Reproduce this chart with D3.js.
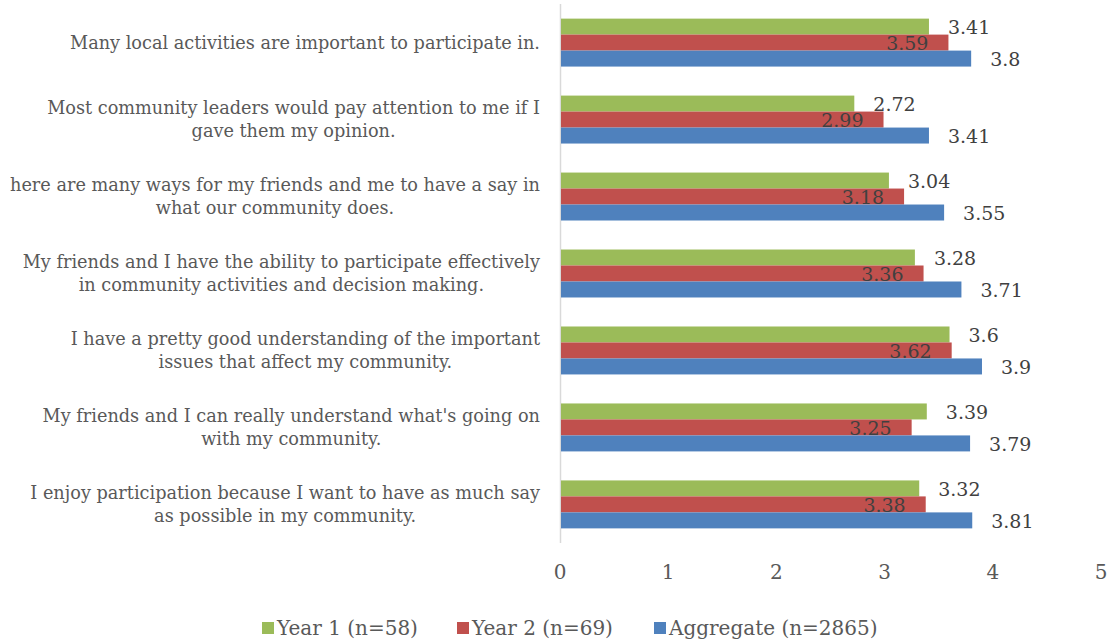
<!DOCTYPE html>
<html>
<head>
<meta charset="utf-8">
<script src="https://cdn.jsdelivr.net/npm/d3@7"></script>
<style>
  body { margin: 0; background: #fff; }
  svg text { font-family: "DejaVu Serif", "Liberation Serif", serif; }
</style>
</head>
<body>
<svg id="chart"></svg>
<script>
  // categories, top to bottom (line breaks as in the chart)
  const categories = [
    ['Many local activities are important to participate in.'],
    ['Most community leaders would pay attention to me if I', 'gave them my opinion.'],
    ['here are many ways for my friends and me to have a say in', 'what our community does.'],
    ['My friends and I have the ability to participate effectively', 'in community activities and decision making.'],
    ['I have a pretty good understanding  of the important', 'issues that affect my community.'],
    ['My friends and I can really understand  what\'s going on', 'with my community.'],
    ['I enjoy participation because I want to have as much say', 'as possible in my community.']
  ];
  const year1 = [3.41, 2.72, 3.04, 3.28, 3.6, 3.39, 3.32];
  const year2 = [3.59, 2.99, 3.18, 3.36, 3.62, 3.25, 3.38];
  const aggregate = [3.8, 3.41, 3.55, 3.71, 3.9, 3.79, 3.81];
  const seriesNames = ['Year 1 (n=58)', 'Year 2 (n=69)', 'Aggregate (n=2865)'];
  const tickValues = [0, 1, 2, 3, 4, 5];

  const colors = ['#9bbb59', '#c0504d', '#4f81bd'];
  const width = 1108;
  const height = 643;
  const plot = { left: 560, right: 1101, top: 4, bottom: 543 };

  const svg = d3.select('#chart').attr('width', width).attr('height', height);

  const x = d3.scaleLinear().domain([0, 5]).range([plot.left, plot.right]);
  const y = d3.scaleBand().domain(d3.range(categories.length)).range([plot.top, plot.bottom]).paddingInner(0.377).paddingOuter(0.19);
  const sub = d3.scaleBand().domain([0, 1, 2]).range([0, y.bandwidth()]);

  const series = [year1, year2, aggregate];

  // axis line
  svg.append('line')
    .attr('x1', x(0) + 0.5).attr('x2', x(0) + 0.5)
    .attr('y1', plot.top).attr('y2', plot.bottom)
    .attr('stroke', '#d9d9d9').attr('stroke-width', 1.5);

  // bars
  const groups = svg.selectAll('g.cat')
    .data(categories)
    .enter()
    .append('g')
    .attr('class', 'cat')
    .attr('transform', function(d, i) { return 'translate(0,' + y(i) + ')'; });

  groups.each(function(d, i) {
    const g = d3.select(this);
    series.forEach(function(s, k) {
      g.append('rect')
        .attr('x', x(0) + 1)
        .attr('y', sub(k))
        .attr('width', x(s[i]) - x(0) - 1)
        .attr('height', sub.bandwidth())
        .attr('fill', colors[k]);
    });
    // value labels
    series.forEach(function(s, k) {
      const end = x(s[i]);
      g.append('text')
        .attr('x', k === 1 ? end - 20 : end + 19)
        .attr('y', sub(k) + sub.bandwidth() / 2 + 0.5)
        .attr('dy', '0.35em')
        .attr('text-anchor', k === 1 ? 'end' : 'start')
        .style('font-size', '19px')
        .attr('fill', '#404040')
        .text(s[i]);
    });
  });

  // category labels (centered block, right edge near axis)
  const labelRight = 540;
  groups.each(function(d, i) {
    const g = d3.select(this);
    const t = g.append('text')
      .style('font-size', '17.7px')
      .attr('fill', '#595959')
      .attr('text-anchor', 'middle');
    const lineH = 23;
    const cy = y.bandwidth() / 2;
    d.forEach(function(line, j) {
      t.append('tspan')
        .attr('y', cy + (j - (d.length - 1) / 2) * lineH)
        .attr('dy', '0.35em')
        .text(line);
    });
    let maxW = 0;
    t.selectAll('tspan').each(function() {
      maxW = Math.max(maxW, this.getComputedTextLength());
    });
    t.selectAll('tspan').attr('x', labelRight - maxW / 2);
  });

  // x axis tick labels
  svg.append('g')
    .selectAll('text')
    .data(tickValues)
    .enter()
    .append('text')
    .attr('x', function(d) { return x(d); })
    .attr('y', 572)
    .attr('dy', '0.35em')
    .attr('text-anchor', 'middle')
    .style('font-size', '20px')
    .attr('fill', '#595959')
    .text(function(d) { return d; });

  // legend
  const legendX = [262, 457, 654];
  const legend = svg.append('g').selectAll('g')
    .data(seriesNames)
    .enter()
    .append('g')
    .attr('transform', function(d, i) { return 'translate(' + legendX[i] + ',628)'; });
  legend.append('rect')
    .attr('x', 0).attr('y', -6).attr('width', 12).attr('height', 12)
    .attr('fill', function(d, i) { return colors[i]; });
  legend.append('text')
    .attr('x', 15)
    .attr('dy', '0.35em')
    .style('font-size', '20px')
    .attr('fill', '#595959')
    .text(function(d) { return d; });
</script>
</body>
</html>
